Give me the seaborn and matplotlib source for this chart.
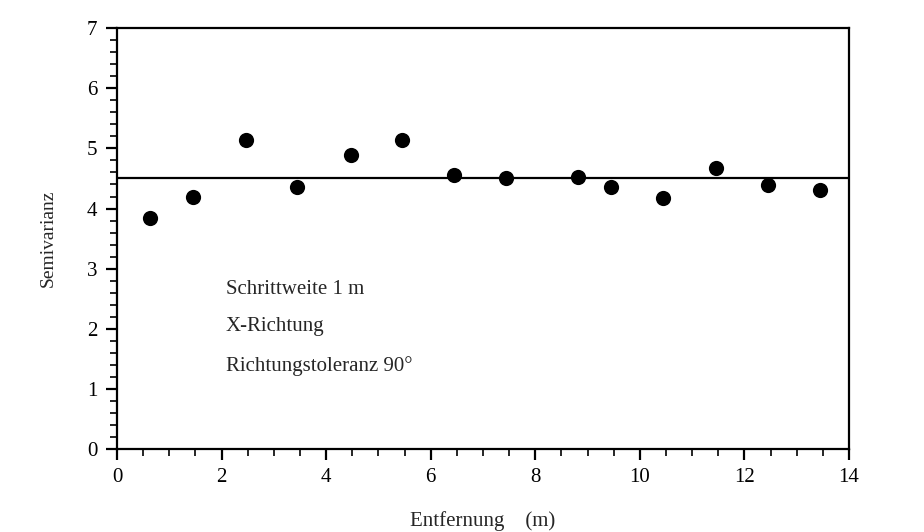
import matplotlib
matplotlib.use("Agg")
import matplotlib.pyplot as plt
import seaborn as sns
import pandas as pd
from matplotlib.ticker import MultipleLocator

distance = [0.63, 1.45, 2.46, 3.45, 4.47, 5.45, 6.45, 7.44, 8.82, 9.45, 10.44, 11.45, 12.46, 13.45]
semivariance = [3.84, 4.19, 5.14, 4.36, 4.89, 5.14, 4.55, 4.51, 4.52, 4.36, 4.17, 4.67, 4.39, 4.31]
sill = 4.51
notes = ["Schrittweite 1 m", "X-Richtung", "Richtungstoleranz 90°"]

df = pd.DataFrame({"Entfernung": distance, "Semivarianz": semivariance})

sns.set_style("ticks")
plt.rcParams["font.family"] = ["Liberation Serif", "DejaVu Serif"]

fig = plt.figure(figsize=(9.24, 5.32), dpi=100)
ax = fig.add_axes([0.1266, 0.156, 0.7922, 0.791])

sns.scatterplot(data=df, x="Entfernung", y="Semivarianz", ax=ax,
                color="black", s=120, edgecolor="black", linewidth=0, zorder=3)
ax.axhline(sill, color="black", lw=1.6, zorder=2)

ax.set_xlim(0, 14)
ax.set_ylim(0, 7)
ax.xaxis.set_major_locator(MultipleLocator(2))
ax.xaxis.set_minor_locator(MultipleLocator(0.5))
ax.yaxis.set_major_locator(MultipleLocator(1))
ax.yaxis.set_minor_locator(MultipleLocator(0.2))

for sp in ax.spines.values():
    sp.set_linewidth(1.6)
    sp.set_color("black")

ax.tick_params(axis="both", which="major", direction="out", length=8, width=1.6,
               labelsize=15, colors="black", pad=6)
ax.tick_params(axis="both", which="minor", direction="out", length=5, width=1.4)

ax.set_xlabel("Entfernung    (m)", fontsize=15, labelpad=17)
ax.set_ylabel("Semivarianz", fontsize=14, labelpad=22)

ys = [2.66, 2.03, 1.38]
for txt, yv in zip(notes, ys):
    ax.text(2.08, yv, txt, fontsize=15, va="center", ha="left")

fig.savefig("out.png", dpi=100)
